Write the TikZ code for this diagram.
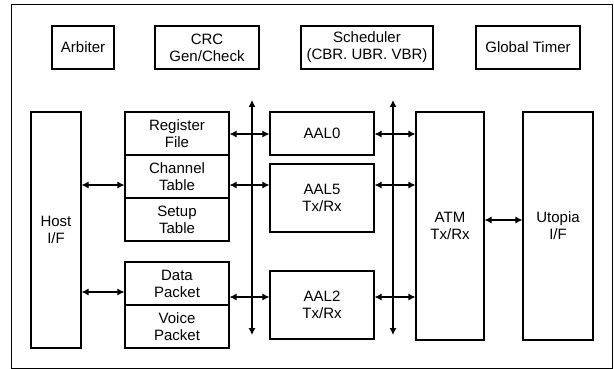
\documentclass[tikz,border=0pt]{standalone}
\usepackage{fontspec}
\setmainfont{Liberation Sans}
\usetikzlibrary{arrows.meta}
\tikzset{
	blk/.style={draw, line width=1.1pt, inner sep=0pt, align=center, font=\fontsize{15}{17}\selectfont},
	dbl/.style={line width=1.1pt, {Latex[length=7pt,width=7pt]}-{Latex[length=7pt,width=7pt]}},
}

\begin{document}
\begin{tikzpicture}[x=1pt, y=-1pt]
			%%%%% START %%%%%
			\useasboundingbox (0, 0) rectangle (614, 369);
			
			\draw[line width=1pt] (11, 5) rectangle (612, 368);
			
			\node[blk, minimum width=62, minimum height=43] (arb) at (83, 47.5) {Arbiter};
			\node[blk, minimum width=104, minimum height=43] (crc) at (207, 47.5) {CRC\\Gen/Check};
			\node[blk, minimum width=132, minimum height=43] (sched) at (367, 47.5) {Scheduler\\(CBR. UBR. VBR)};
			\node[blk, minimum width=104, minimum height=43] (timer) at (528, 47.5) {Global Timer};
			
			\node[blk, minimum width=50, minimum height=236] (host) at (56, 230) {Host\\I/F};
			
			\node[blk, minimum width=104, minimum height=43] (reg) at (177, 133.5) {Register\\File};
			\node[blk, minimum width=104, minimum height=43] (chan) at (177, 176.5) {Channel\\Table};
			\node[blk, minimum width=104, minimum height=43] (setup) at (177, 219.5) {Setup\\Table};
			\node[blk, minimum width=104, minimum height=43] (data) at (177, 283.5) {Data\\Packet};
			\node[blk, minimum width=104, minimum height=43] (voice) at (177, 326.5) {Voice\\Packet};
			
			\node[blk, minimum width=104, minimum height=43] (aal0) at (322, 133.5) {AAL0};
			\node[blk, minimum width=104, minimum height=68] (aal5) at (322, 198) {AAL5\\Tx/Rx};
			\node[blk, minimum width=104, minimum height=68] (aal2) at (322, 305) {AAL2\\Tx/Rx};
			
			\node[blk, minimum width=68, minimum height=228] (atm) at (450, 226) {ATM\\Tx/Rx};
			\node[blk, minimum width=70, minimum height=228] (utopia) at (558, 226) {Utopia\\I/F};
			
			% bus lines
			\coordinate (bus1top) at (252, 100);
			\coordinate (bus1bot) at (252, 335);
			\coordinate (bus2top) at (393, 100);
			\coordinate (bus2bot) at (393, 335);
			\draw[dbl] (bus1top) -- (bus1bot);
			\draw[dbl] (bus2top) -- (bus2bot);
			
			% rows of the arrows
			\coordinate (row1) at (0, 134);
			\coordinate (row2) at (0, 185);
			\coordinate (row3) at (0, 292);
			\coordinate (row4) at (0, 297);
			\coordinate (row5) at (0, 220);
			
			\draw[dbl] (host.east |- row2) -- (chan.west |- row2);
			\draw[dbl] (host.east |- row3) -- (data.west |- row3);
			
			\draw[dbl] (reg.east |- row1) -- (aal0.west |- row1);
			\draw[dbl] (chan.east |- row2) -- (aal5.west |- row2);
			\draw[dbl] (data.east |- row4) -- (aal2.west |- row4);
			
			\draw[dbl] (aal0.east |- row1) -- (atm.west |- row1);
			\draw[dbl] (aal5.east |- row2) -- (atm.west |- row2);
			\draw[dbl] (aal2.east |- row4) -- (atm.west |- row4);
			
			\draw[dbl] (atm.east |- row5) -- (utopia.west |- row5);
			%%%%% END %%%%%
		\end{tikzpicture}
\end{document}
